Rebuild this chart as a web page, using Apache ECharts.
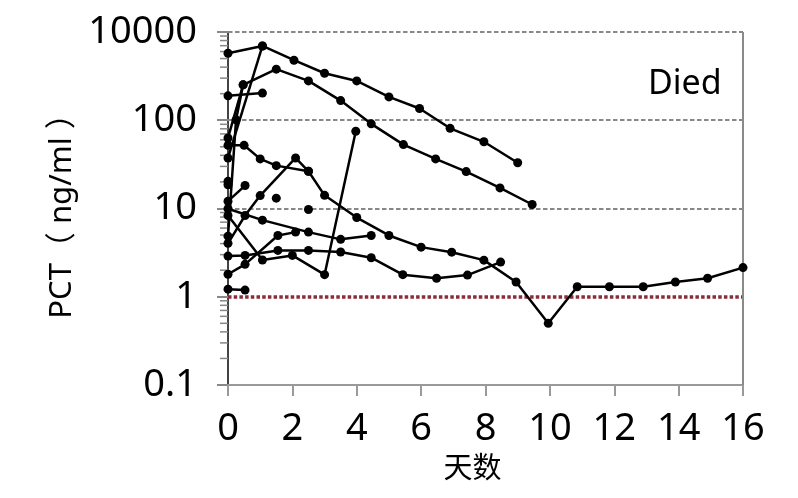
<!DOCTYPE html>
<html>
<head>
<meta charset="utf-8">
<script src="https://cdn.jsdelivr.net/npm/echarts@6/dist/echarts.min.js"></script>
<style>
html,body{margin:0;padding:0;background:#fff;}
#chart{width:798px;height:498px;}
</style>
</head>
<body>
<div id="chart"></div>
<script>
// x tick labels (days) and y tick labels (as printed on the reference)
var xTicks = [0, 2, 4, 6, 8, 10, 12, 14, 16];
var yTickLabels = ['0.1', '1', '10', '100', '10000'];
var yDecades = [0.1, 1, 10, 100];
var minorMantissa = [2, 3, 4, 5, 6, 7, 8, 9];

// patients: [day, PCT]
var p1 = [[0,574],[1.07,695],[2.05,479],[3,341],[4,279],[5,184],[5.95,136],[6.9,81],[7.95,57],[9,33]];
var p2 = [[0,4.86],[0.25,101],[0.47,252],[1.5,379],[2.5,279],[3.5,167],[4.45,91],[5.45,53],[6.45,36.5],[7.4,26.2],[8.45,17.1],[9.45,11.1]];
var p3 = [[0,37.4],[1.07,695]];
var p4 = [[0,189],[1.07,203]];
var p5 = [[0,52],[0.5,52],[1,36.5],[1.5,30.6],[2.5,26.4]];
var p6 = [[0,4.03],[0.53,8.33],[1,14],[2.1,37.4],[2.5,26.4],[3,14.1],[4,7.9],[5,4.95],[6,3.65],[6.95,3.2],[7.95,2.6],[8.95,1.47],[9.95,0.5],[10.85,1.3],[11.85,1.3],[12.9,1.3],[13.9,1.47],[14.9,1.62],[16,2.14]];
var p7 = [[1.5,13.1]];
var p8 = [[2.5,9.75]];
var p9 = [[0,12.1],[0.53,18.2]];
var p10 = [[0,9.93],[1.07,7.38],[2.5,5.4],[3.5,4.47],[4.45,4.95]];
var p11 = [[0,8.33],[1.07,2.61],[2.0,2.94],[3.0,1.78],[3.97,75]];
var p12 = [[0,2.89],[0.53,2.94],[1.55,3.35],[2.5,3.35],[3.5,3.21],[4.45,2.77],[5.43,1.78],[6.48,1.62],[7.44,1.76],[8.47,2.47]];
var p13 = [[0,1.8],[0.53,2.33],[1.55,4.95],[2.1,5.4]];
var p14 = [[0,1.22],[0.53,1.19]];
var p15 = [[0,63],[0.47,252]];
var p16 = [[0,20.3]];
var p17 = [[0,18.6]];

var patients = [p1,p2,p3,p4,p5,p6,p7,p8,p9,p10,p11,p12,p13,p14,p15,p16,p17];

var gridLevels = [10, 100, 1000];
var cutoff = 1;

var minorTickValues = [];
yDecades.forEach(function (d) {
  minorMantissa.forEach(function (m) { minorTickValues.push([0, m * d]); });
});

var chart = echarts.init(document.getElementById('chart'), null, {renderer:'canvas'});

var series = patients.map(function (d) {
  return {
    type: 'line',
    data: d,
    symbol: 'circle',
    symbolSize: 9,
    showSymbol: true,
    lineStyle: {color: '#000', width: 2.5},
    itemStyle: {color: '#000'},
    z: 5,
    silent: true,
    animation: false
  };
});

series.push({
  type: 'line', data: [], silent: true, animation: false, z: 2,
  markLine: {
    symbol: 'none', silent: true, animation: false,
    label: {show: false},
    lineStyle: {color: '#888', width: 2, type: [4.5, 2.5]},
    data: gridLevels.map(function (v) { return {yAxis: v}; })
  }
});
series.push({
  type: 'line', data: [], silent: true, animation: false, z: 2,
  markLine: {
    symbol: 'none', silent: true, animation: false,
    label: {show: false},
    lineStyle: {color: '#8b2c3c', width: 3.5, type: [3.5, 2.2]},
    data: [{yAxis: cutoff}]
  }
});
series.push({
  type: 'line', data: [], silent: true, animation: false, z: 2,
  markLine: {
    symbol: 'none', silent: true, animation: false,
    label: {show: false},
    lineStyle: {color: '#8a8a8a', width: 2, type: 'solid'},
    data: [{xAxis: xTicks[xTicks.length - 1]}]
  }
});
// minor ticks of the log axis (2..9 in each decade)
series.push({
  type: 'custom', data: minorTickValues, silent: true, animation: false, clip: false, z: 3,
  renderItem: function (params, api) {
    var p = api.coord([api.value(0), api.value(1)]);
    return {
      type: 'line',
      shape: {x1: p[0] - 8, y1: p[1], x2: p[0], y2: p[1]},
      style: {stroke: '#888', lineWidth: 1.5}
    };
  }
});

chart.setOption({
  animation: false,
  backgroundColor: '#fff',
  grid: {left: 228, right: 55, top: 32, bottom: 113, containLabel: false},
  xAxis: {
    type: 'value', min: 0, max: 16, interval: 2,
    name: '天数', nameLocation: 'middle', nameGap: 66,
    nameTextStyle: {fontSize: 29, color: '#000', fontFamily: "'Noto Sans CJK SC'", padding: [0, 26, 0, 0]},
    axisLine: {show: true, lineStyle: {color: '#999', width: 2}},
    axisTick: {show: true, length: 11, lineStyle: {color: '#999', width: 2}},
    axisLabel: {fontSize: 38, color: '#000', fontFamily: "'Noto Sans'", margin: 25},
    splitLine: {show: false}
  },
  yAxis: {
    type: 'log', logBase: 10, min: 0.1, max: 1000,
    name: 'PCT（ ng/ml ）', nameLocation: 'middle', nameGap: 148, nameRotate: 90,
    nameTextStyle: {fontSize: 31, color: '#000', fontFamily: "'Noto Sans', 'Noto Sans CJK SC'"},
    axisLine: {show: true, lineStyle: {color: '#444', width: 2}},
    axisTick: {show: true, length: 11, lineStyle: {color: '#888', width: 2}},
    minorTick: {show: false},
    axisLabel: {
      fontSize: 38, color: '#000', fontFamily: "'Noto Sans'", margin: 31,
      formatter: function (v, idx) { return yTickLabels[idx]; }
    },
    splitLine: {show: false}
  },
  graphic: [{
    type: 'text', left: 648, top: 67,
    style: {text: 'Died', fontSize: 34, fill: '#000', fontFamily: "'Noto Sans'"}
  }],
  series: series
});
</script>
</body>
</html>
